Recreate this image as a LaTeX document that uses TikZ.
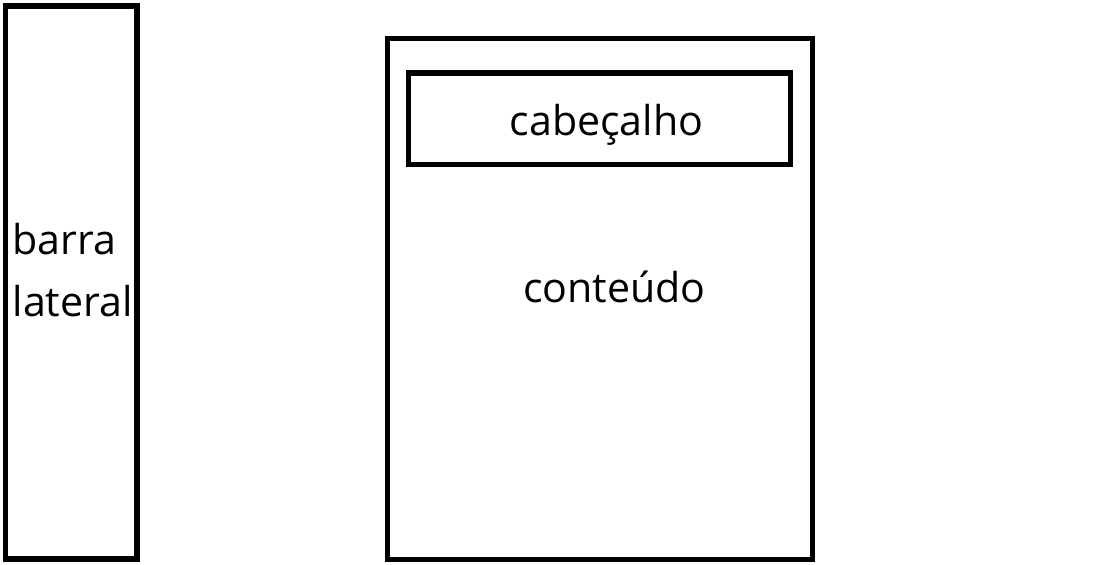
\documentclass[tikz,border=0pt]{standalone}
\usepackage{fontspec}
\setmainfont{Open Sans}
\usepackage{tikz}

\begin{document}
\begin{tikzpicture}[x=0.01cm,y=-0.01cm,
    box/.style={draw, line width=1.45pt},
    caption/.style={inner sep=0pt, font=\fontsize{11.7}{17.6}\selectfont}]
    \useasboundingbox (0,0) rectangle (1099,565);

    % Sidebar
    \draw[box] (5.5,6) rectangle (137,559);
    \node[caption, anchor=base west] (barra) at (12,255) {barra};
    \node[caption, anchor=base west] (lateral) at (12,317) {lateral};

    % Main content area
    \draw[box] (387.5,38.5) rectangle (812.5,559.5);
    \node[caption, anchor=base] (conteudo) at (614.5,303) {conteúdo};

    % Header inside the content area
    \draw[box] (408.5,73) rectangle (790.5,164.5);
    \node[caption, anchor=base] (cabecalho) at (606.5,136) {cabeçalho};
\end{tikzpicture}
\end{document}
